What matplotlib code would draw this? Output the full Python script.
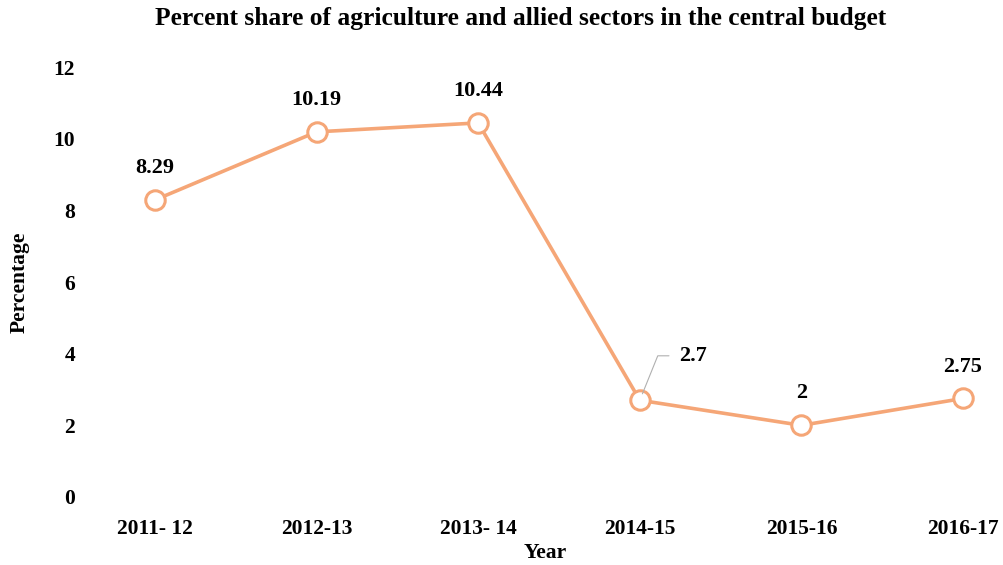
import matplotlib.pyplot as plt

years = ['2011- 12', '2012-13', '2013- 14', '2014-15', '2015-16', '2016-17']
share = [8.29, 10.19, 10.44, 2.7, 2, 2.75]
share_labels = ['8.29', '10.19', '10.44', '2.7', '2', '2.75']

plt.rcParams['font.family'] = 'Liberation Serif'
plt.rcParams['font.weight'] = 'bold'

fig = plt.figure(figsize=(10.04, 5.65), dpi=100)
ax = fig.add_axes([100 / 1004, 68 / 565, 890 / 1004, 430 / 565])

orange = '#F5A677'
x = list(range(len(years)))
ax.plot(x, share, color=orange, lw=2.6, marker='o', ms=14,
        mfc='white', mec=orange, mew=2.2, zorder=3, clip_on=False)

for i, (v, lab) in enumerate(zip(share, share_labels)):
    if lab == '2.7':
        # leader line for the 2014-15 label
        ax.annotate(lab, xy=(i, v), xytext=(28, 32), textcoords='offset points',
                    ha='left', va='center', fontsize=16, fontweight='bold',
                    arrowprops=dict(arrowstyle='-', color='#b0b0b0', lw=0.8,
                                    connectionstyle='angle,angleA=0,angleB=68,rad=0',
                                    shrinkA=5, shrinkB=5))
    else:
        ax.annotate(lab, xy=(i, v), xytext=(0, 23), textcoords='offset points',
                    ha='center', va='center', fontsize=16, fontweight='bold')

ax.set_xlim(-55 / 161.6, 5 + 27 / 161.6)
ax.set_ylim(0, 12)
ax.set_yticks(range(0, 13, 2))
ax.set_xticks(x)
ax.set_xticklabels(years)
ax.tick_params(axis='both', length=0, labelsize=15.5)
ax.tick_params(axis='y', pad=18)
ax.tick_params(axis='x', pad=16)
for s in ax.spines.values():
    s.set_visible(False)

ax.set_xlabel('Year', fontsize=15.5, fontweight='bold', labelpad=3)
ax.set_ylabel('Percentage', fontsize=15.5, fontweight='bold', labelpad=17)
fig.text(521 / 1004, 1 - 18 / 565, 'Percent share of agriculture and allied sectors in the central budget',
         ha='center', va='center', fontsize=18.4, fontweight='bold')

fig.savefig('out.png', dpi=100)
